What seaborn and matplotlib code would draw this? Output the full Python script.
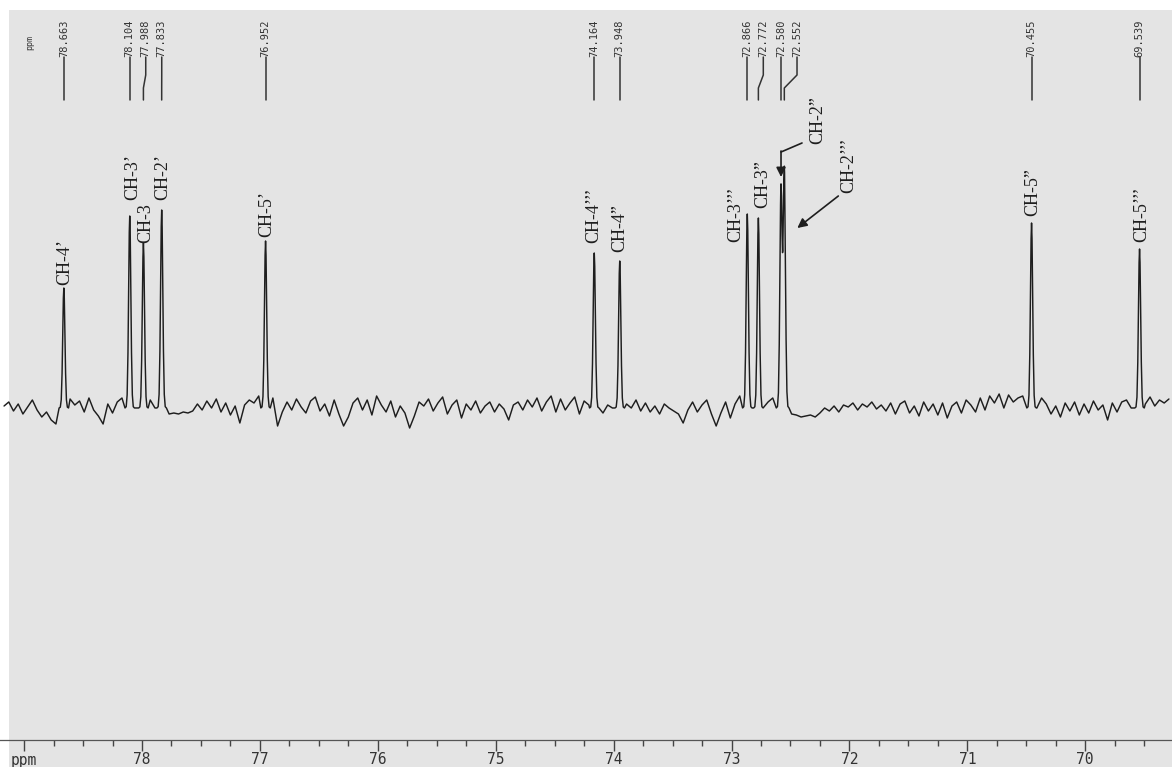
import numpy as np
import pandas as pd
import matplotlib
matplotlib.use("Agg")
import matplotlib.pyplot as plt
from matplotlib.ticker import MultipleLocator
from matplotlib.patches import Rectangle
import seaborn as sns

sns.set_theme(style="white")
plt.rcParams['font.family'] = ['DejaVu Sans']

# peaks: shift (ppm) and height above baseline
peak_ppm = [78.663, 78.104, 77.988, 77.833, 76.952, 74.164, 73.948,
            72.866, 72.772, 72.580, 72.552, 70.455, 69.539]
peak_height = [120, 192, 165, 198, 167, 155, 147, 194, 190, 221, 239, 185, 159]
peak_names = ['CH-4’', 'CH-3’', 'CH-3', 'CH-2’', 'CH-5’', 'CH-4’’’', 'CH-4”',
              'CH-3’’’', 'CH-3”', 'CH-2”', 'CH-2’’’', 'CH-5”', 'CH-5’’’']

# baseline noise, estimated every 0.04 ppm starting at 79.17 ppm
noise = [2, 6, -3, 4, -6, 1, 8, -2, -9, -4,
         -12, -16, 0, 0, 9, 3, 7, -4, 10, -2,
         -8, -16, 4, -5, 6, 10, 0, 12, 0, 14,
         0, 8, 0, -2, -4, -6, -5, -6, -4, -5,
         -3, 4, -2, 7, 0, 9, -4, 5, -7, 2,
         -15, 3, 8, 5, 12, 0, -6, 10, -18, -4,
         6, -2, 9, 1, -5, 7, 11, -3, 4, -8,
         8, -6, -18, -9, 5, 10, -2, 8, -7, 12,
         3, -4, 7, -9, 2, -5, -20, -8, 6, 2,
         9, -3, 5, 11, -6, 3, 8, -10, 4, -2,
         7, -5, 2, 6, -4, 4, -1, -12, 3, 6,
         -2, 8, 1, 10, -3, 6, 12, -4, 9, -2,
         5, 11, -6, 7, 3, 0, 6, -5, 3, 0,
         0, -2, 4, 0, 8, -3, 5, -4, 2, -6,
         4, 0, -3, -6, -15, -2, 6, -4, 3, 8,
         -6, -18, -5, 6, -10, 4, 12, 0, 10, 0,
         8, 0, 6, 10, 8, 0, 0, -6, -7, -9,
         -8, -7, -9, -5, 0, -3, 2, -4, 3, 1,
         5, -2, 4, 1, 6, -1, 3, -3, 5, -6,
         4, 7, -5, 2, -8, 6, -3, 4, -7, 5,
         -10, 2, 6, -5, 8, 3, -4, 10, -2, 12,
         5, 14, 0, 13, 6, 10, 12, 4, 0, 0,
         10, 4, -6, 2, -9, 5, -3, 6, -7, 4,
         -5, 7, -2, 3, -12, 5, -4, 6, 8, 0,
         0, 9, 4, 11, 2, 8, 5, 9]

scale_ticks = [79, 78, 77, 76, 75, 74, 73, 72, 71, 70]
scale_labels = ['ppm', '78', '77', '76', '75', '74', '73', '72', '71', '70']

# ---- build the trace ----
pk = np.array(peak_ppm)
grid = 79.17 - 0.04 * np.arange(len(noise))
near = np.min(np.abs(grid[:, None] - pk[None, :]), axis=1) < 0.045
offs = np.array([-0.04, -0.03, -0.022, -0.015, -0.009, -0.004, 0,
                 0.004, 0.009, 0.015, 0.022, 0.03, 0.04])
x = np.concatenate([grid[~near], (pk[:, None] + offs).ravel()])
base = np.concatenate([np.array(noise, float)[~near], np.zeros(pk.size * offs.size)])
sig = sum(h * np.exp(-0.5 * ((x - p) / 0.0095) ** 2) for p, h in zip(peak_ppm, peak_height))
spec = pd.DataFrame({'ppm': x, 'intensity': base + sig}).sort_values('ppm')

W, H = 1172, 767
bg = '#e4e4e4'
ink = '#1e1e1e'

fig = plt.figure(figsize=(W / 100, H / 100), dpi=100)
fig.patch.set_facecolor(bg)
fig.patches.append(Rectangle((0, 1 - 10 / H), 1, 10 / H, transform=fig.transFigure,
                             facecolor='white', edgecolor='none', zorder=-1))
fig.patches.append(Rectangle((0, 0), 9 / W, 1, transform=fig.transFigure,
                             facecolor='white', edgecolor='none', zorder=-1))

ax = fig.add_axes([0, 27 / H, 1, 740 / H])
ax.set_facecolor('none')

sns.lineplot(data=spec, x='ppm', y='intensity', sort=False, estimator=None,
             color=ink, lw=1.05, ax=ax)

ax.set_xlim(78 + 142 / 117.9, 78 - (W - 142) / 117.9)
ax.set_ylim(-332, 408)
ax.set_xlabel('')
ax.set_ylabel('')
ax.set_yticks([])
for s in ['top', 'left', 'right']:
    ax.spines[s].set_visible(False)
ax.spines['bottom'].set_color('#555555')
ax.spines['bottom'].set_linewidth(0.9)
ax.set_xticks(scale_ticks, scale_labels, family='DejaVu Sans Mono', fontsize=10.5, color='#333333')
ax.xaxis.set_minor_locator(MultipleLocator(0.25))
ax.tick_params(axis='x', which='both', bottom=True, direction='out', color='#444444', width=1)
ax.tick_params(axis='x', which='major', length=8, pad=1)
ax.tick_params(axis='x', which='minor', length=4)


def to_img(xd, yd):
    dx, dy = ax.transData.transform((xd, yd))
    return dx, H - dy


def from_img(xi, yi):
    return ax.transData.inverted().transform((xi, H - yi))


# ---- printed shift labels at the top ----
gap = 16 / 117.9
label_pos = []
for p in peak_ppm:
    label_pos.append(p if not label_pos else min(p, label_pos[-1] - gap))
for p, lp in zip(peak_ppm, label_pos):
    ax.plot([lp, lp, p, p], [351, 333, 320, 308], color='#333333', lw=1.1)
    ax.text(lp, 351, f'{p:.3f}', rotation=90, ha='center', va='bottom',
            family='DejaVu Sans Mono', fontsize=7.5, color='#333333')
px, py = from_img(30, 43)
ax.text(px, py, 'ppm', rotation=90, ha='center', va='center',
        family='DejaVu Sans Mono', fontsize=6, color='#333333')

# ---- assignments ----
label_off = {'CH-4’': (1, 3), 'CH-3’': (3, 16), 'CH-3': (2, 0), 'CH-2’': (1, 10),
             'CH-5’': (1, 4), 'CH-4’’’': (-1, 10), 'CH-4”': (0, 9),
             'CH-3’’’': (-12, -28), 'CH-3”': (4, 10), 'CH-5”': (1, 7), 'CH-5’’’': (2, 7)}
for p, h, name in zip(peak_ppm, peak_height, peak_names):
    if name in label_off:
        dx, dy = label_off[name]
        ax.annotate(name, xy=(p, h), xytext=(dx, dy), textcoords='offset pixels',
                    rotation=90, ha='center', va='bottom', family='Liberation Serif',
                    fontsize=13, color=ink)

arrow = dict(arrowstyle='-|>', color=ink, lw=1.2, mutation_scale=14, shrinkA=0, shrinkB=0)

# CH-2'' with a bent leader
xi, yi = to_img(72.580, peak_height[peak_names.index('CH-2”')])
ax.text(*from_img(xi + 37, yi - 67), 'CH-2”', rotation=90, ha='center', va='center',
        family='Liberation Serif', fontsize=13, color=ink)
a, b = from_img(xi + 21, yi - 44), from_img(xi, yi - 35)
ax.plot([a[0], b[0]], [a[1], b[1]], color=ink, lw=1.2)
ax.annotate('', xy=from_img(xi, yi - 10), xytext=from_img(xi, yi - 36), arrowprops=arrow)

# CH-2''' with a straight leader
xi, yi = to_img(72.552, peak_height[peak_names.index('CH-2’’’')])
ax.text(*from_img(xi + 64, yi - 4), 'CH-2’’’', rotation=90, ha='center', va='center',
        family='Liberation Serif', fontsize=13, color=ink)
ax.annotate('', xy=from_img(xi + 13, yi + 59), xytext=from_img(xi + 54, yi + 27), arrowprops=arrow)

fig.savefig('out.png', dpi=100, facecolor=fig.get_facecolor())
